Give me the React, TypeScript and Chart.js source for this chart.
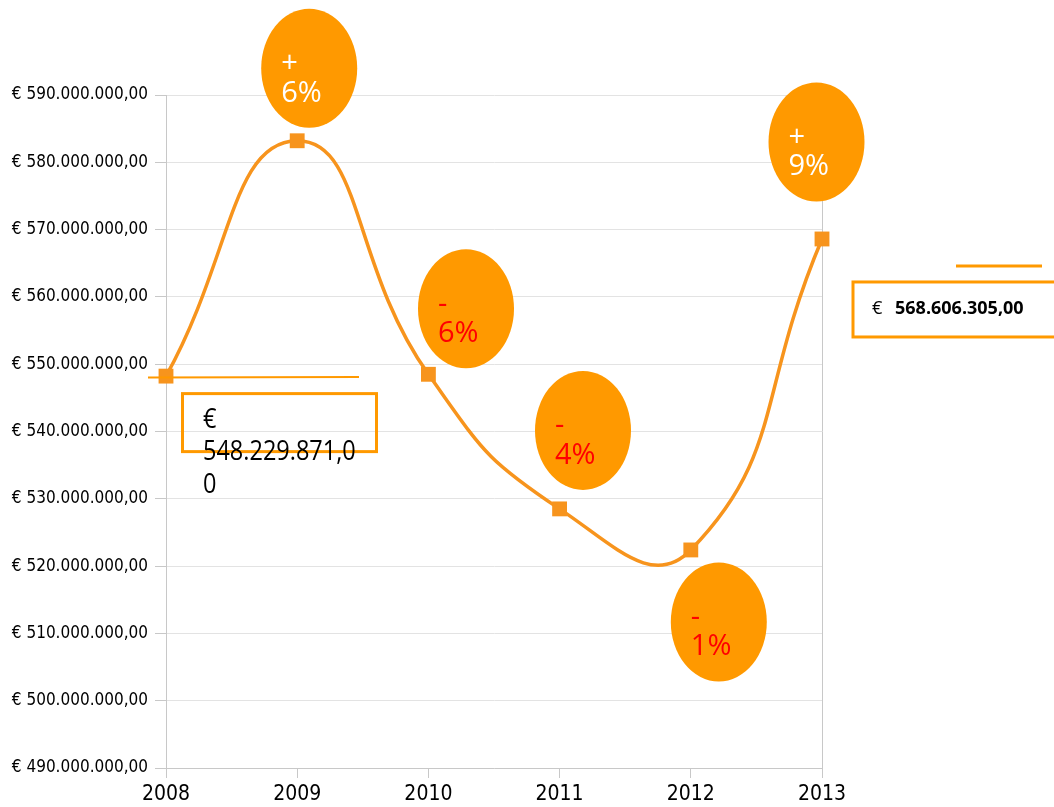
import React, { useEffect, useRef } from "react";
import { Chart, registerables } from "chart.js";

Chart.register(...registerables);

const years = ["2008", "2009", "2010", "2011", "2012", "2013"];
const revenue = [548229871, 583200000, 548500000, 528500000, 522400000, 568606305];
const changeSigns = ["", "+", "-", "-", "-", "+"];
const changeValues = ["", "6%", "6%", "4%", "1%", "9%"];
const changeTextColors = ["", "#ffffff", "#ff0000", "#ff0000", "#ff0000", "#ffffff"];
const firstValueLines = ["€", "548.229.871,0", "0"];
const lastValueCurrency = "€";
const lastValueText = "568.606.305,00";

const ORANGE = "#FF9900";
const LINE = "#F7941D";

// bubble offsets from their data point (pixels)
const bubbleOffsets = [null, [12, -72.5], [37.6, -65.5], [23.4, -78.5], [28, 72], [-5.5, -97]];

function formatEuro(v: number) {
  const s = Math.round(v).toString().replace(/\B(?=(\d{3})+(?!\d))/g, ".");
  return "€ " + s + ",00";
}

function drawScaledText(ctx: CanvasRenderingContext2D, text: string, x: number, y: number, sx: number) {
  ctx.save();
  ctx.translate(x, y);
  ctx.scale(sx, 1);
  ctx.fillText(text, 0, 0);
  ctx.restore();
}

const annotationPlugin = {
  id: "annotations",
  afterDatasetsDraw(chart: any) {
    const ctx: CanvasRenderingContext2D = chart.ctx;
    const xs = chart.scales.x;
    const ys = chart.scales.y;
    const px = (i: number) => xs.getPixelForValue(i);
    const py = (i: number) => ys.getPixelForValue(revenue[i]);
    ctx.save();

    // bubbles
    for (let i = 1; i < revenue.length; i++) {
      const off = bubbleOffsets[i] as number[];
      const cx = px(i) + off[0];
      const cy = py(i) + off[1];
      ctx.beginPath();
      ctx.ellipse(cx, cy, 48, 59.5, 0, 0, Math.PI * 2);
      ctx.fillStyle = ORANGE;
      ctx.fill();
      ctx.fillStyle = changeTextColors[i];
      ctx.textBaseline = "alphabetic";
      ctx.textAlign = "left";
      ctx.font = "29px 'Open Sans', sans-serif";
      ctx.fillText(changeSigns[i], cx - 28, cy + 4);
      ctx.fillText(changeValues[i], cx - 28, cy + 33.5);
    }

    // first value callout
    const x0 = px(0);
    const y0 = py(0);
    ctx.strokeStyle = ORANGE;
    ctx.lineWidth = 2;
    ctx.beginPath();
    ctx.moveTo(x0 - 18, y0 + 1.5);
    ctx.lineTo(x0 + 193, y0 + 1);
    ctx.stroke();
    ctx.lineWidth = 3;
    ctx.strokeRect(x0 + 16.5, y0 + 17.5, 194, 58);
    ctx.fillStyle = "#000";
    ctx.font = "27px 'Open Sans', sans-serif";
    ctx.textAlign = "left";
    ctx.textBaseline = "alphabetic";
    drawScaledText(ctx, firstValueLines[0], x0 + 37, y0 + 52, 0.87);
    drawScaledText(ctx, firstValueLines[1], x0 + 37, y0 + 84, 0.87);
    drawScaledText(ctx, firstValueLines[2], x0 + 37, y0 + 117, 0.87);

    // last value callout
    const x5 = px(5);
    const y5 = py(5);
    ctx.lineWidth = 3;
    ctx.beginPath();
    ctx.moveTo(x5 + 134, y5 + 27);
    ctx.lineTo(x5 + 220, y5 + 27);
    ctx.stroke();
    ctx.strokeRect(x5 + 31, y5 + 43, 240, 55);
    ctx.fillStyle = "#000";
    ctx.font = "18px 'Open Sans', sans-serif";
    ctx.fillText(lastValueCurrency, x5 + 50, y5 + 75);
    ctx.font = "bold 18px 'Open Sans', sans-serif";
    ctx.fillText(lastValueText, x5 + 73, y5 + 75);
    ctx.restore();
  },
};

export default function App() {
  const ref = useRef<HTMLCanvasElement>(null);
  useEffect(() => {
    if (!ref.current) return;
    const chart = new Chart(ref.current, {
      type: "line",
      data: {
        labels: years,
        datasets: [
          {
            data: revenue,
            borderColor: LINE,
            backgroundColor: LINE,
            borderWidth: 3.5,
            tension: 0.5,
            pointStyle: "rect",
            pointRadius: 10.5,
            pointBorderWidth: 0,
            pointBackgroundColor: LINE,
            clip: false,
          } as any,
        ],
      },
      options: {
        responsive: false,
        animation: false,
        layout: { padding: { top: 95, right: 232, left: 0, bottom: 0 } },
        plugins: { legend: { display: false }, tooltip: { enabled: false }, title: { display: false } },
        scales: {
          x: {
            type: "category",
            offset: false,
            afterFit: (s: any) => {
              s.height = 39;
            },
            grid: {
              color: (c: any) => (c.index === years.length - 1 ? "#c8c8c8" : "rgba(0,0,0,0)"),
              tickColor: "#c8c8c8",
              tickLength: 10,
              drawOnChartArea: true,
            },
            border: { color: "#c8c8c8" },
            ticks: {
              color: "#000",
              padding: 4,
              maxRotation: 0,
              font: { family: "'Liberation Sans Narrow', 'DejaVu Sans Condensed', sans-serif", size: 21 },
            },
          },
          y: {
            min: 490000000,
            max: 590000000,
            afterFit: (s: any) => {
              s.width = 166;
            },
            grid: { color: "#e3e3e3", tickColor: "#c8c8c8", tickLength: 11 },
            border: { color: "#c8c8c8" },
            ticks: {
              stepSize: 10000000,
              color: "#000",
              padding: 7,
              callback: (v: any) => formatEuro(Number(v)),
              font: { family: "'Liberation Sans Narrow', 'DejaVu Sans Condensed', sans-serif", size: 17 },
            },
          },
        },
      } as any,
      plugins: [annotationPlugin],
    });
    return () => chart.destroy();
  }, []);
  return (
    <div style={{ position: "fixed", left: 0, top: 0, width: 1054, height: 807, background: "#fff" }}>
      <canvas ref={ref} width={1054} height={807} style={{ width: 1054, height: 807, display: "block" }} />
    </div>
  );
}
